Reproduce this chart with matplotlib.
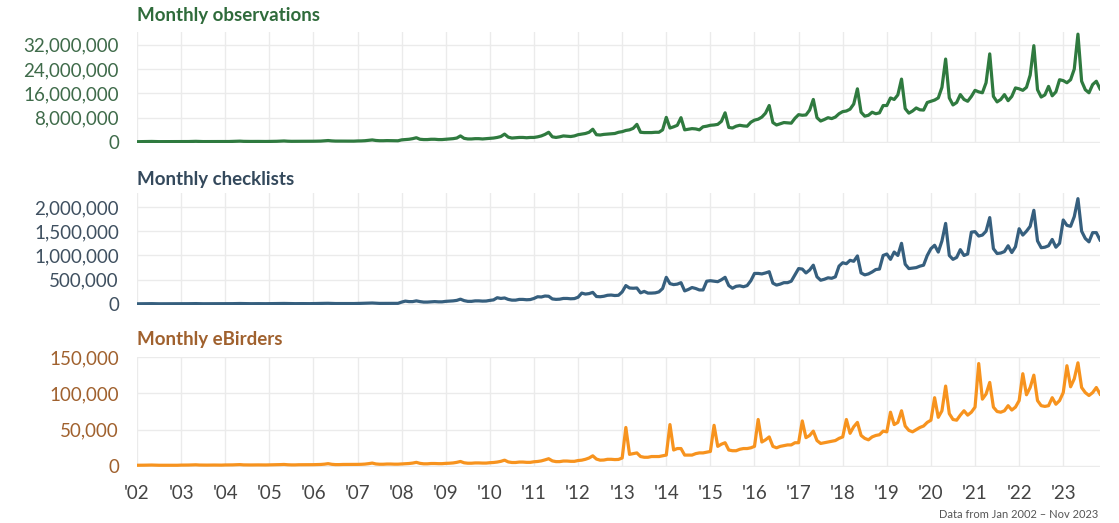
import numpy as np
import matplotlib
matplotlib.use('Agg')
from matplotlib import pyplot as plt
from matplotlib.ticker import FuncFormatter

# monthly values, Jan 2002 .. Nov 2023, one row per year
observations_m = [
    [0.10, 0.11, 0.13, 0.16, 0.18, 0.14, 0.12, 0.12, 0.13, 0.12, 0.11, 0.11],  # 2002
    [0.12, 0.13, 0.15, 0.19, 0.22, 0.17, 0.14, 0.14, 0.16, 0.15, 0.13, 0.13],
    [0.15, 0.16, 0.19, 0.24, 0.28, 0.21, 0.18, 0.18, 0.20, 0.19, 0.17, 0.17],
    [0.19, 0.20, 0.23, 0.29, 0.34, 0.26, 0.22, 0.22, 0.25, 0.23, 0.21, 0.21],
    [0.25, 0.26, 0.30, 0.40, 0.48, 0.36, 0.30, 0.30, 0.33, 0.31, 0.28, 0.28],
    [0.34, 0.36, 0.42, 0.55, 0.68, 0.50, 0.42, 0.42, 0.46, 0.44, 0.40, 0.40],
    [0.70, 0.80, 0.90, 1.10, 1.40, 0.90, 0.80, 0.80, 0.90, 0.90, 0.80, 0.80],
    [0.90, 1.00, 1.10, 1.30, 2.00, 1.20, 1.00, 1.00, 1.10, 1.10, 1.00, 1.10],
    [1.20, 1.30, 1.50, 1.80, 2.60, 1.60, 1.30, 1.40, 1.50, 1.50, 1.40, 1.50],
    [1.50, 1.70, 2.00, 2.50, 3.20, 1.70, 1.50, 1.70, 2.00, 1.90, 1.80, 2.00],
    [2.40, 2.60, 2.80, 3.20, 4.20, 2.40, 2.30, 2.50, 2.60, 2.70, 2.80, 3.20],
    [3.40, 3.80, 4.00, 4.50, 5.80, 3.20, 3.10, 3.10, 3.10, 3.20, 3.20, 4.00],
    [8.10, 4.60, 5.00, 5.50, 8.00, 4.00, 4.20, 4.40, 4.30, 4.00, 5.00, 5.20],
    [5.50, 5.60, 5.80, 6.80, 9.60, 4.80, 4.60, 5.20, 5.50, 5.30, 5.20, 6.50],
    [7.20, 7.50, 8.20, 9.50, 12.0, 6.40, 5.60, 6.00, 6.40, 6.30, 6.20, 7.80],
    [9.00, 8.80, 8.90, 10.5, 14.0, 8.00, 6.90, 7.40, 8.00, 7.70, 8.20, 9.30],
    [10.0, 10.2, 10.8, 12.5, 17.5, 9.80, 8.50, 8.80, 9.80, 9.30, 9.60, 12.0],
    [12.0, 14.5, 14.0, 15.5, 20.7, 11.0, 9.50, 10.2, 11.2, 10.6, 10.5, 13.0],
    [13.4, 13.8, 14.5, 18.0, 27.3, 14.5, 12.2, 13.0, 15.6, 14.0, 13.4, 15.0],
    [17.0, 16.5, 16.2, 19.5, 29.0, 15.0, 13.2, 14.0, 15.6, 13.6, 15.0, 17.8],
    [17.5, 17.0, 18.0, 22.0, 31.7, 17.2, 14.8, 15.5, 18.3, 15.2, 16.5, 20.5],
    [20.2, 19.5, 20.5, 24.0, 35.5, 20.0, 17.2, 16.2, 18.9, 20.0, 17.5],  # 2023
]

checklists_k = [
    [5, 5, 6, 7, 8, 6, 5, 5, 6, 6, 5, 5],  # 2002
    [6, 6, 7, 8, 9, 7, 6, 6, 7, 7, 6, 6],
    [7, 7, 8, 10, 11, 9, 7, 7, 8, 8, 7, 7],
    [8, 8, 9, 11, 12, 10, 8, 8, 9, 9, 8, 8],
    [10, 10, 12, 14, 15, 12, 10, 10, 12, 11, 10, 10],
    [13, 14, 16, 19, 21, 16, 13, 13, 15, 15, 13, 14],
    [40, 60, 50, 50, 65, 50, 40, 40, 45, 50, 45, 45],
    [55, 60, 65, 75, 100, 70, 55, 55, 65, 65, 60, 62],
    [75, 85, 130, 115, 125, 95, 80, 80, 95, 95, 88, 92],
    [115, 150, 145, 165, 160, 105, 96, 100, 115, 115, 108, 112],
    [140, 225, 205, 215, 240, 155, 150, 160, 180, 185, 175, 180],
    [250, 380, 330, 325, 330, 230, 260, 225, 225, 230, 250, 320],
    [550, 420, 400, 410, 440, 270, 300, 340, 320, 290, 290, 470],
    [480, 470, 460, 500, 550, 380, 325, 365, 375, 356, 380, 480],
    [630, 630, 620, 640, 665, 430, 390, 410, 440, 440, 470, 600],
    [730, 720, 640, 700, 800, 560, 490, 510, 540, 530, 560, 780],
    [850, 830, 900, 880, 990, 640, 600, 620, 660, 710, 720, 1000],
    [1030, 920, 1070, 1000, 1250, 820, 730, 740, 750, 780, 800, 1000],
    [1140, 1210, 1070, 1300, 1660, 1000, 920, 960, 1120, 1000, 1030, 1480],
    [1490, 1400, 1420, 1500, 1780, 1140, 1040, 1050, 1080, 1200, 1060, 1180],
    [1550, 1420, 1500, 1600, 1930, 1300, 1160, 1170, 1200, 1330, 1170, 1250],
    [1730, 1620, 1600, 1800, 2170, 1500, 1350, 1280, 1470, 1470, 1320],  # 2023
]

ebirders_k = [
    [1.0, 1.0, 1.1, 1.2, 1.3, 1.1, 1.0, 1.0, 1.1, 1.1, 1.0, 1.0],  # 2002
    [1.2, 1.2, 1.3, 1.5, 1.6, 1.3, 1.2, 1.2, 1.3, 1.3, 1.2, 1.2],
    [1.4, 1.4, 1.5, 1.7, 1.9, 1.5, 1.4, 1.4, 1.5, 1.5, 1.4, 1.4],
    [1.5, 1.5, 1.7, 1.9, 2.1, 1.7, 1.5, 1.5, 1.7, 1.7, 1.6, 1.6],
    [1.8, 1.9, 2.1, 2.5, 3.2, 2.3, 1.9, 1.9, 2.1, 2.1, 2.0, 2.0],
    [2.2, 2.3, 2.6, 3.2, 4.0, 2.8, 2.4, 2.4, 2.7, 2.7, 2.5, 2.5],
    [2.8, 3.0, 3.4, 4.0, 5.0, 3.6, 3.0, 3.0, 3.4, 3.4, 3.2, 3.2],
    [3.6, 3.8, 4.2, 5.0, 6.2, 4.4, 3.8, 3.8, 4.2, 4.2, 4.0, 4.0],
    [4.5, 4.8, 5.4, 6.4, 8.0, 5.6, 4.8, 4.8, 5.4, 5.4, 5.0, 5.0],
    [5.8, 6.2, 7.0, 8.4, 10.0, 7.0, 6.0, 6.0, 6.8, 6.8, 6.4, 6.4],
    [7.5, 8.0, 9.2, 11.0, 14.0, 9.5, 8.0, 8.2, 9.2, 9.2, 8.8, 9.0],
    [11, 53, 16, 17, 18, 13, 12, 12, 13, 13, 13, 14],
    [15, 57, 22, 24, 24, 15, 15, 15, 17, 18, 18, 19],
    [20, 56, 27, 30, 32, 22, 21, 21, 23, 24, 24, 25],
    [27, 64, 33, 36, 40, 27, 25, 27, 28, 29, 29, 32],
    [32, 62, 39, 42, 48, 35, 31, 32, 33, 34, 35, 38],
    [40, 64, 45, 54, 60, 42, 38, 36, 40, 42, 43, 48],
    [47, 74, 57, 60, 76, 55, 49, 47, 50, 53, 55, 60],
    [63, 94, 67, 76, 110, 72, 64, 63, 70, 76, 70, 74],
    [81, 141, 92, 99, 115, 81, 75, 74, 76, 83, 77, 81],
    [90, 127, 98, 108, 125, 90, 83, 82, 83, 94, 85, 90],
    [101, 138, 109, 120, 142, 108, 101, 97, 101, 108, 99],  # 2023
]

year_labels = ["'%02d" % (y % 100) for y in range(2002, 2024)]

panels = [
    ('Monthly observations', np.concatenate(observations_m) * 1e6,
     [0, 8e6, 16e6, 24e6, 32e6], (-0.33e6, 36.3e6),
     '#2f7a3f', '#2f6b3b', '#3f6b4a'),
    ('Monthly checklists', np.concatenate(checklists_k) * 1e3,
     [0, 500e3, 1000e3, 1500e3, 2000e3], (-0.02e6, 2.28e6),
     '#365f7e', '#34495c', '#3f5060'),
    ('Monthly eBirders', np.concatenate(ebirders_k) * 1e3,
     [0, 50e3, 100e3, 150e3], (-1.4e3, 150e3),
     '#f7931e', '#a0612e', '#a0612e'),
]

# axes boxes in pixels: top, bottom
boxes = [(31.7, 143), (193.3, 305), (357, 467)]
title_y = [16, 180, 340]

W, H = 1119, 523
fig = plt.figure(figsize=(W / 100, H / 100), dpi=100)
plt.rcParams['font.family'] = ['Lato', 'DejaVu Sans']

left, right = 137, 1100
for i, (title, values, ticks, ylim, line_c, title_c, label_c) in enumerate(panels):
    top, bottom = boxes[i]
    ax = fig.add_axes([left / W, 1 - bottom / H, (right - left) / W, (bottom - top) / H])
    x = np.arange(len(values))
    ax.plot(x, values, color=line_c, linewidth=2.3, solid_joinstyle='round', zorder=3)
    ax.set_xlim(0, len(values) - 1)
    ax.set_ylim(*ylim)
    ax.set_yticks(ticks)
    ax.yaxis.set_major_formatter(FuncFormatter(lambda v, p: '{:,.0f}'.format(v)))
    ax.set_xticks(np.arange(0, len(values), 12))
    ax.grid(True, color='#ebebeb', linewidth=1)
    for s in ax.spines.values():
        s.set_visible(False)
    ax.tick_params(axis='y', length=0, pad=13, labelsize=13.5, labelcolor=label_c)
    if i == 2:
        ax.set_xticklabels(year_labels)
        ax.tick_params(axis='x', length=0, pad=13, labelsize=13.5, labelcolor='#444444')
    else:
        ax.tick_params(axis='x', length=0, labelbottom=False)
    fig.text(left / W, 1 - title_y[i] / H, title, ha='left', va='center',
             fontsize=13.5, fontweight='bold', color=title_c)

fig.text(1098 / W, 1 - 515 / H, 'Data from Jan 2002 \u2013 Nov 2023', ha='right', va='center',
         fontsize=8, color='#555555')

fig.savefig('out.png', dpi=100, facecolor='white')
